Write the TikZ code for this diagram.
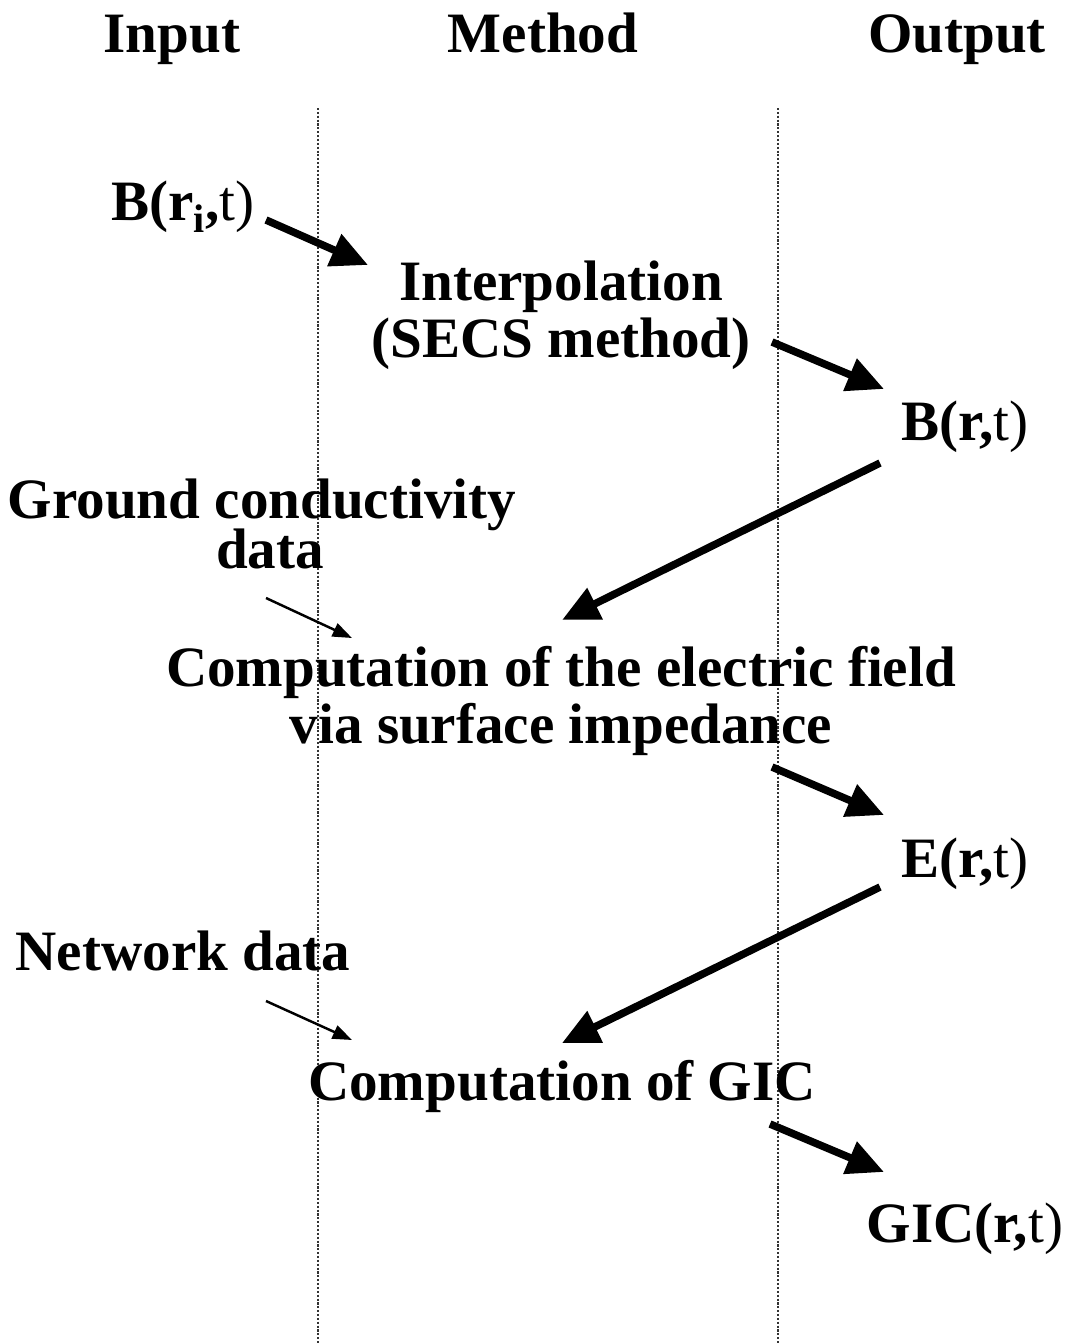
\documentclass[tikz,border=0pt]{standalone}
\usepackage{fontspec}
\setmainfont{Liberation Serif}
\usetikzlibrary{arrows.meta}
\pgfdeclarelayer{nodelayer}
\pgfdeclarelayer{edgelayer}
\pgfsetlayers{edgelayer,nodelayer,main}
\tikzstyle{label text}=[fill=none, draw=none, inner sep=0pt, anchor=base, align=center, font=\fontsize{32.5}{32.4}\selectfont\bfseries]
\tikzstyle{column line}=[draw=black!80, densely dotted, line width=1.2pt]
\tikzstyle{thick edge}=[draw=black, line width=4.3pt, -{Triangle[length=21pt,width=19pt]}]
\tikzstyle{thin edge}=[draw=black, line width=1.4pt, -{Triangle[length=11pt,width=8pt]}]

\begin{document}
\begin{tikzpicture}[x=0.02cm, y=-0.02cm]
	\useasboundingbox (0,0) rectangle (1068,1343);
	\begin{pgfonlayer}{nodelayer}
		\node [style=label text] (input) at (172,52) {Input};
		\node [style=label text] (method) at (543,52) {Method};
		\node [style=label text] (output) at (957,52) {Output};
		\node [style=label text] (bri) at (183,220) {B(r\textsubscript{i},\mdseries t)};
		\node [style=label text] (interp) at (561,357) {Interpolation\\(SECS method)};
		\node [style=label text] (br) at (965,440) {B(r,\mdseries t)};
		\node [style=label text] (ground) at (262,568) {Ground conductivity\\[-4pt]\hspace*{0.32cm}data};
		\node [style=label text] (efield) at (561,743) {Computation of the electric field\\via surface impedance};
		\node [style=label text] (er) at (965,877) {E(r,\mdseries t)};
		\node [style=label text] (network) at (183,970) {Network data};
		\node [style=label text] (gic) at (562,1100) {Computation of GIC};
		\node [style=label text] (gicr) at (965,1242) {GIC(r,\mdseries t)};
		% arrow ends
		\coordinate (a0) at (266,220);
		\coordinate (a1) at (368,265);
		\coordinate (b0) at (772,342);
		\coordinate (b1) at (884,389);
		\coordinate (c0) at (880,463);
		\coordinate (c1) at (562,620);
		\coordinate (d0) at (772,767);
		\coordinate (d1) at (884,815);
		\coordinate (e0) at (880,887);
		\coordinate (e1) at (562,1043);
		\coordinate (f0) at (770,1124);
		\coordinate (f1) at (884,1172);
		\coordinate (g0) at (266,598);
		\coordinate (g1) at (352,638);
		\coordinate (h0) at (266,1001);
		\coordinate (h1) at (352,1040);
		\coordinate (left top) at (318,108);
		\coordinate (left bottom) at (318,1343);
		\coordinate (right top) at (778,108);
		\coordinate (right bottom) at (778,1343);
	\end{pgfonlayer}
	\begin{pgfonlayer}{edgelayer}
		\draw [style=column line] (left top) to (left bottom);
		\draw [style=column line] (right top) to (right bottom);
		\draw [style=thick edge] (a0) to (a1);
		\draw [style=thick edge] (b0) to (b1);
		\draw [style=thick edge] (c0) to (c1);
		\draw [style=thick edge] (d0) to (d1);
		\draw [style=thick edge] (e0) to (e1);
		\draw [style=thick edge] (f0) to (f1);
		\draw [style=thin edge] (g0) to (g1);
		\draw [style=thin edge] (h0) to (h1);
	\end{pgfonlayer}
\end{tikzpicture}
\end{document}
